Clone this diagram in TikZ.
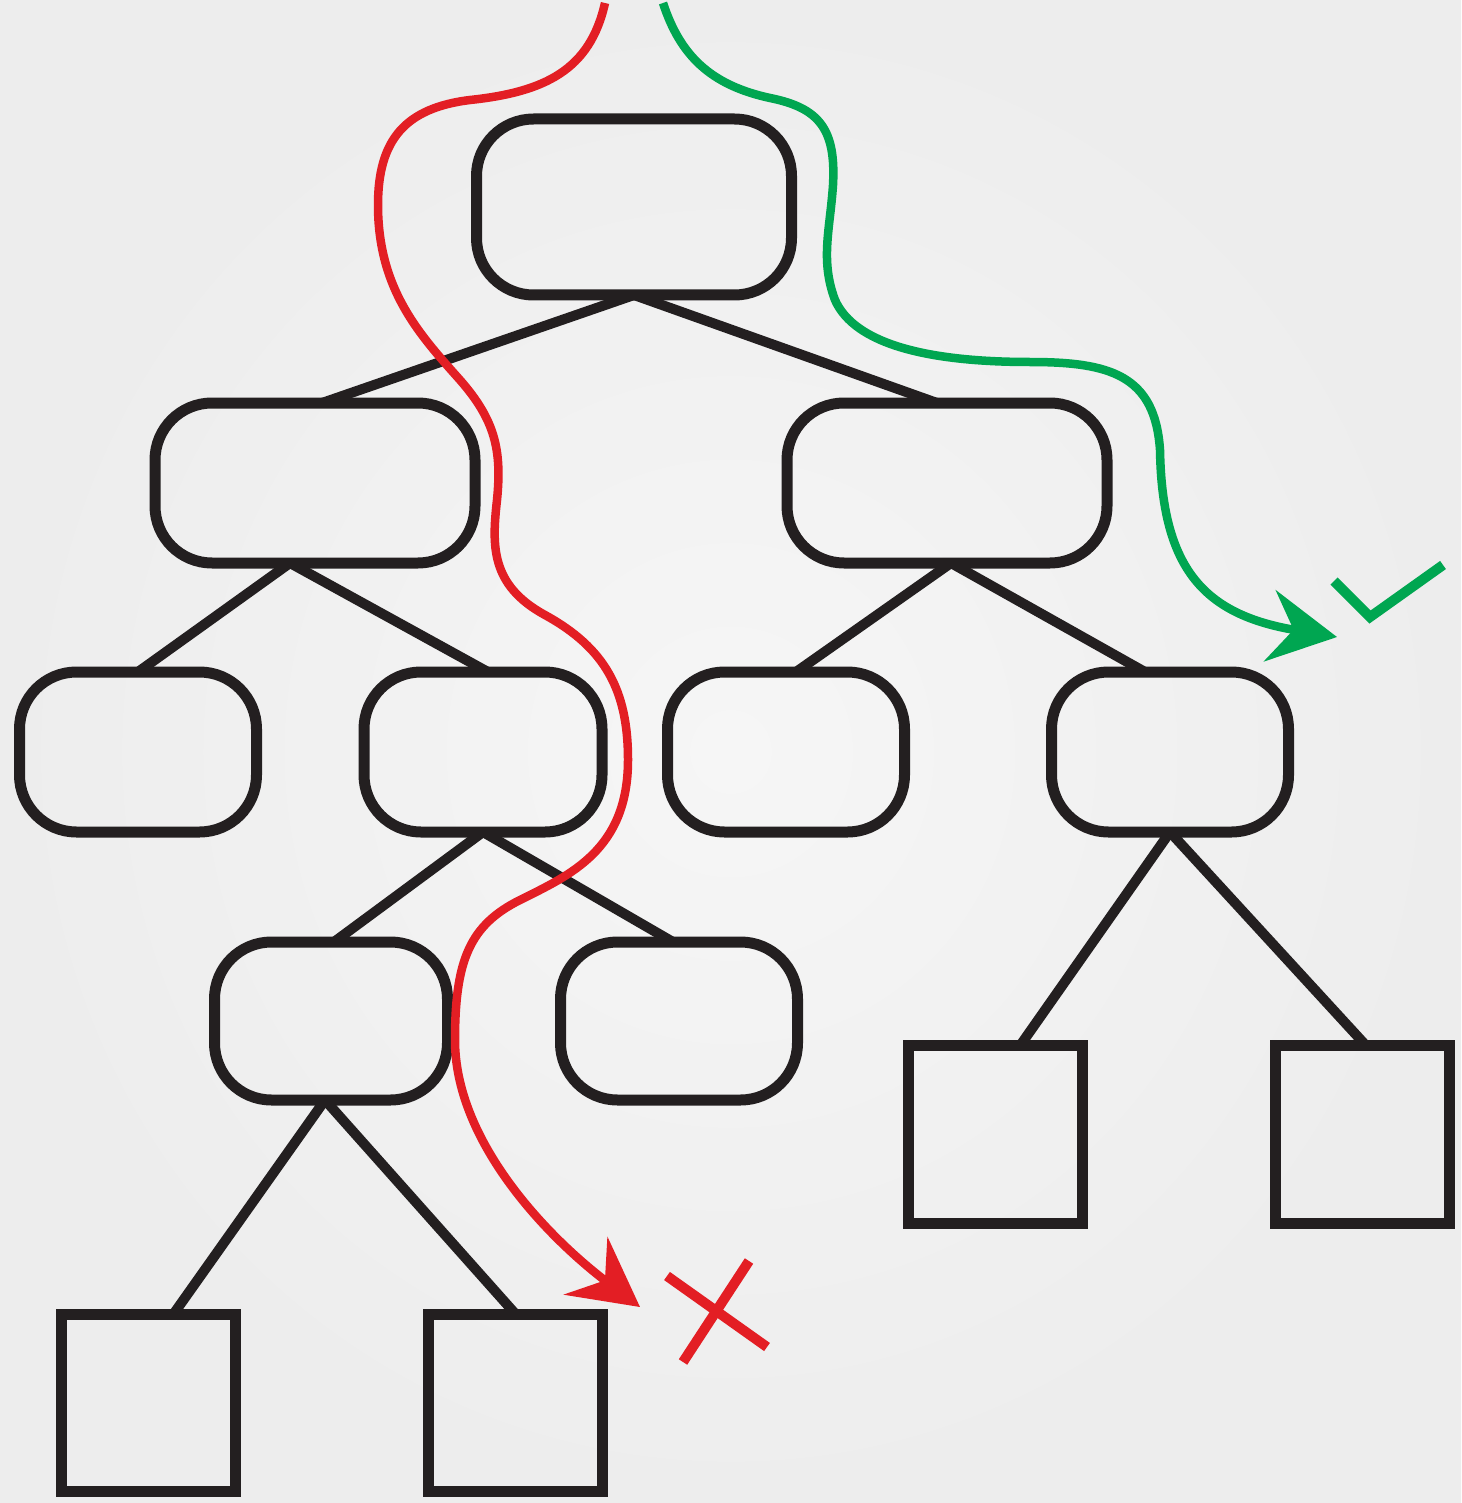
\documentclass[tikz,border=0pt]{standalone}
\usetikzlibrary{arrows.meta}
\definecolor{linek}{RGB}{35,31,32}
\definecolor{redc}{RGB}{227,30,36}
\definecolor{greenc}{RGB}{0,166,81}
\definecolor{bgin}{RGB}{246,246,246}
\definecolor{bgout}{RGB}{237,237,237}
\begin{document}
\begin{tikzpicture}[x=1pt,y=-1pt,
  rbox/.style={draw=linek, line width=11pt, rounded corners=57pt, minimum width=#1, minimum height=160pt, inner sep=0pt, outer sep=0pt},
  sbox/.style={draw=linek, line width=11pt, minimum width=174pt, minimum height=177pt, inner sep=0pt, outer sep=0pt},
  link/.style={draw=linek, line width=10pt},
  redpath/.style={draw=redc, line width=8.5pt, -{Stealth[length=68pt,width=72pt,inset=24pt]}},
  greenpath/.style={draw=greenc, line width=8.5pt, -{Stealth[length=68pt,width=72pt,inset=24pt]}},
  strokemark/.style={line width=10pt, line cap=butt, line join=miter}]
\useasboundingbox (0,0) rectangle (1461,1503);
\shade[inner color=bgin, outer color=bgout] (0,0) rectangle (1461,1503);

% nodes
\node[rbox=315pt, minimum height=176pt] (root) at (634,207) {};
\node[rbox=320pt] (l1l) at (315,483) {};
\node[rbox=320pt] (l1r) at (947,483) {};
\node[rbox=237pt] (a) at (138,752) {};
\node[rbox=238pt] (b) at (483,752) {};
\node[rbox=237pt] (c) at (786,752) {};
\node[rbox=237pt] (d) at (1170,752) {};
\node[rbox=233pt, minimum height=158pt] (e) at (331,1021) {};
\node[rbox=237pt, minimum height=158pt] (f) at (679,1021) {};
\node[sbox] (g) at (148.5,1402.5) {};
\node[sbox] (h) at (515.5,1402.5) {};
\node[sbox, minimum height=178pt] (i) at (995.5,1134) {};
\node[sbox, minimum height=178pt] (j) at (1362.5,1134) {};

% connectors
\draw[link] (root.south) -- ([xshift=7pt]l1l.north);
\draw[link] (root.south) -- ([xshift=-10pt]l1r.north);
\draw[link] ([xshift=-25pt]l1l.south) -- (a.north);
\draw[link] ([xshift=-25pt]l1l.south) -- ([xshift=5pt]b.north);
\draw[link] ([xshift=4pt]l1r.south) -- ([xshift=10pt]c.north);
\draw[link] ([xshift=4pt]l1r.south) -- ([xshift=-25pt]d.north);
\draw[link] (b.south) -- ([xshift=3pt]e.north);
\draw[link] (b.south) -- ([xshift=-6pt]f.north);
\draw[link] ([xshift=-6pt]e.south) -- ([xshift=25pt]g.north);
\draw[link] ([xshift=-6pt]e.south) -- (h.north);
\draw[link] (d.south) -- ([xshift=25pt]i.north);
\draw[link] (d.south) -- ([xshift=3pt]j.north);

% red path
\coordinate (rs) at (605,3);
\coordinate (rt) at (640,1307);
\draw[redpath] (rs)
  .. controls (590,70) and (545,92) .. (470,100)
  .. controls (405,108) and (378,140) .. (378,205)
  .. controls (378,290) and (420,335) .. (460,380)
  .. controls (495,420) and (502,450) .. (497,500)
  .. controls (492,545) and (490,585) .. (545,615)
  .. controls (605,648) and (628,690) .. (628,760)
  .. controls (628,850) and (570,875) .. (520,900)
  .. controls (470,925) and (455,960) .. (455,1040)
  .. controls (455,1140) and (545,1235) .. (rt);

% green path
\coordinate (gs) at (663,3);
\coordinate (gt) at (1337,637);
\draw[greenpath] (gs)
  .. controls (680,55) and (710,85) .. (770,98)
  .. controls (820,108) and (836,130) .. (833,185)
  .. controls (830,230) and (820,260) .. (835,300)
  .. controls (855,345) and (930,362) .. (1030,362)
  .. controls (1110,362) and (1155,375) .. (1160,450)
  .. controls (1162,570) and (1205,615) .. (gt);

% marks
\draw[strokemark, draw=redc] (667,1276) -- (767,1347);
\draw[strokemark, draw=redc] (749,1261) -- (683,1362);
\draw[strokemark, draw=greenc] (1334,581) -- (1370,617) -- (1443,565);
\end{tikzpicture}
\end{document}
